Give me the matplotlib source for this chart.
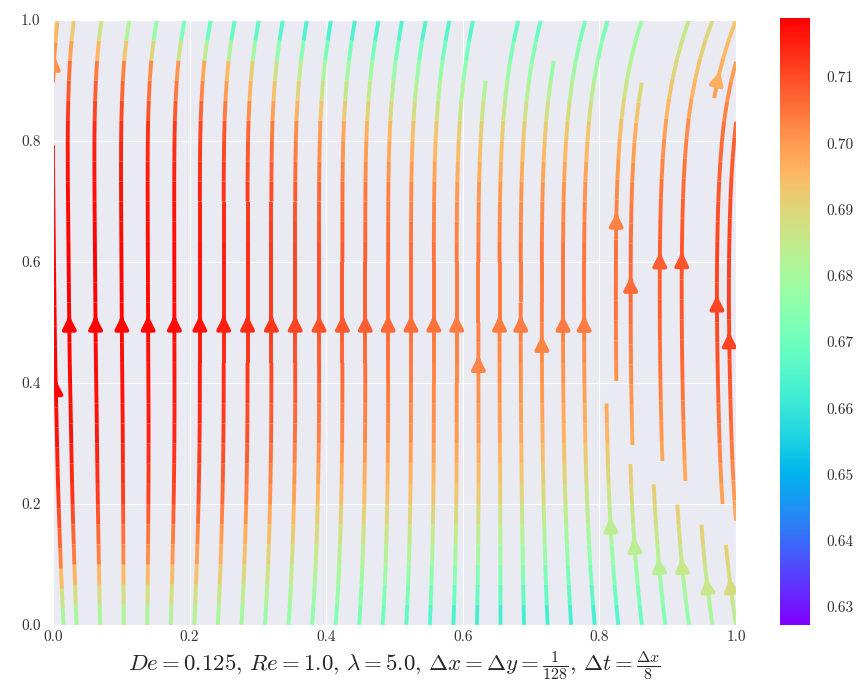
import numpy as np
import matplotlib
matplotlib.use("Agg")
import matplotlib.pyplot as plt
import seaborn as sns

sns.set_style("darkgrid")
plt.rcParams["font.family"] = ["cmr10", "DejaVu Serif"]
plt.rcParams["mathtext.fontset"] = "cm"
plt.rcParams["axes.formatter.use_mathtext"] = True

# grid of the sampled velocity field
x_grid = [0.0, 0.2, 0.4, 0.6, 0.8, 1.0]
y_grid = [0.0, 0.1, 0.2, 0.3, 0.4, 0.5, 0.6, 0.7, 0.8, 0.9, 1.0]

speed = [
    [0.680, 0.682, 0.675, 0.663, 0.663, 0.684],
    [0.705, 0.700, 0.684, 0.680, 0.676, 0.692],
    [0.713, 0.710, 0.695, 0.693, 0.686, 0.700],
    [0.717, 0.714, 0.703, 0.700, 0.695, 0.706],
    [0.718, 0.716, 0.707, 0.702, 0.700, 0.710],
    [0.719, 0.717, 0.709, 0.704, 0.704, 0.712],
    [0.719, 0.717, 0.709, 0.704, 0.705, 0.712],
    [0.718, 0.716, 0.706, 0.700, 0.701, 0.710],
    [0.715, 0.712, 0.699, 0.691, 0.693, 0.707],
    [0.706, 0.700, 0.680, 0.676, 0.679, 0.700],
    [0.690, 0.655, 0.655, 0.660, 0.668, 0.692],
]

slope = [
    [-0.05, 0.04, 0.07, 0.03, -0.08, -0.14],
    [-0.04, 0.03, 0.04, 0.02, -0.06, -0.10],
    [-0.03, 0.02, 0.02, 0.01, -0.04, -0.06],
    [-0.02, 0.01, 0.01, 0.00, -0.02, -0.03],
    [-0.02, 0.00, 0.00, 0.00, -0.01, -0.02],
    [-0.01, 0.00, 0.00, 0.00, 0.00, -0.01],
    [-0.01, 0.00, 0.00, 0.00, 0.00, 0.01],
    [-0.01, 0.00, 0.00, 0.01, 0.02, 0.03],
    [0.00, 0.01, 0.02, 0.04, 0.06, 0.08],
    [0.03, 0.06, 0.08, 0.10, 0.14, 0.20],
    [0.10, 0.18, 0.15, 0.18, 0.26, 0.35],
]

cbar_ticks = [0.63, 0.64, 0.65, 0.66, 0.67, 0.68, 0.69, 0.70, 0.71]
axis_ticks = [0.0, 0.2, 0.4, 0.6, 0.8, 1.0]
vmin, vmax = 0.6273, 0.7189

S = np.array(speed)
R = np.array(slope)
V = S / np.sqrt(1.0 + R ** 2)
U = R * V
X, Y = np.meshgrid(x_grid, y_grid)

fig = plt.figure(figsize=(8.63, 6.90), dpi=100)
ax = fig.add_axes([53 / 863, 65 / 690, 683 / 863, 605 / 690])
cax = fig.add_axes([780 / 863, 65 / 690, 30 / 863, 607 / 690])

norm = matplotlib.colors.Normalize(vmin=vmin, vmax=vmax)
strm = ax.streamplot(X, Y, U, V, color=np.hypot(U, V), cmap="rainbow", norm=norm,
                     density=1, linewidth=2.8, arrowsize=2.0)

ax.set_xlim(0, 1)
ax.set_ylim(0, 1)
ax.set_xticks(axis_ticks)
ax.set_yticks(axis_ticks)
ax.set_xticklabels(["%.1f" % t for t in axis_ticks], fontsize=11)
ax.set_yticklabels(["%.1f" % t for t in axis_ticks], fontsize=11)
ax.tick_params(axis="x", length=0, pad=4, colors="#333333")
ax.tick_params(axis="y", length=0, pad=9, colors="#333333")
ax.set_xlabel(r"$De=0.125,\, Re=1.0,\, \lambda=5.0,\, \Delta x=\Delta y=\frac{1}{128},\, \Delta t=\frac{\Delta x}{8}$",
              fontsize=16.5, labelpad=4)

cb = fig.colorbar(strm.lines, cax=cax)
cb.set_ticks(cbar_ticks)
cb.set_ticklabels(["%.2f" % t for t in cbar_ticks])
cb.ax.tick_params(labelsize=11, length=0, pad=12, colors="#333333")
cb.outline.set_visible(False)

fig.savefig("out.png", dpi=100)
